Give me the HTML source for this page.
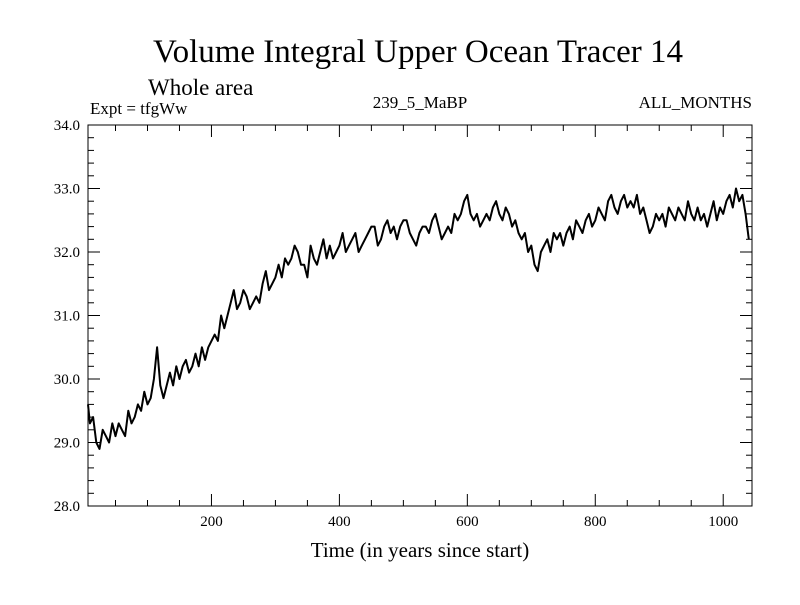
<!DOCTYPE html>
<html><head><meta charset="utf-8"><style>
body{margin:0;background:#fff}
svg text{font-family:"Liberation Serif",serif;fill:#000}
</style></head><body>
<svg id="chart" width="800" height="600" viewBox="0 0 800 600" xmlns="http://www.w3.org/2000/svg">
<text x="418" y="62" font-size="33" text-anchor="middle">Volume Integral Upper Ocean Tracer 14</text>
<text x="148" y="95" font-size="23">Whole area</text>
<text x="90" y="114" font-size="17">Expt = tfgWw</text>
<text x="420" y="108" font-size="17" text-anchor="middle">239_5_MaBP</text>
<text x="752" y="108" font-size="17" text-anchor="end">ALL_MONTHS</text>
<text x="420" y="557" font-size="21" text-anchor="middle">Time (in years since start)</text>
<g id="ticks"></g>
<rect x="88" y="125" width="664" height="381" fill="none" stroke="#000" stroke-width="1"/>
<path id="series" fill="none" stroke="#000" stroke-width="2" stroke-linejoin="round"/>
</svg>
<script>
const years0 = 5, yearStep = 5;
const values = [29.6,29.3,29.4,29.0,28.9,29.2,29.1,29.0,29.3,29.1,29.3,29.2,29.1,29.5,29.3,29.4,29.6,29.5,29.8,29.6,29.7,30.0,30.5,29.9,29.7,29.9,30.1,29.9,30.2,30.0,30.2,30.3,30.1,30.2,30.4,30.2,30.5,30.3,30.5,30.6,30.7,30.6,31.0,30.8,31.0,31.2,31.4,31.1,31.2,31.4,31.3,31.1,31.2,31.3,31.2,31.5,31.7,31.4,31.5,31.6,31.8,31.6,31.9,31.8,31.9,32.1,32.0,31.8,31.8,31.6,32.1,31.9,31.8,32.0,32.2,31.9,32.1,31.9,32.0,32.1,32.3,32.0,32.1,32.2,32.3,32.0,32.1,32.2,32.3,32.4,32.4,32.1,32.2,32.4,32.5,32.3,32.4,32.2,32.4,32.5,32.5,32.3,32.2,32.1,32.3,32.4,32.4,32.3,32.5,32.6,32.4,32.2,32.3,32.4,32.3,32.6,32.5,32.6,32.8,32.9,32.6,32.5,32.6,32.4,32.5,32.6,32.5,32.7,32.8,32.6,32.5,32.7,32.6,32.4,32.5,32.3,32.2,32.3,32.0,32.1,31.8,31.7,32.0,32.1,32.2,32.0,32.3,32.2,32.3,32.1,32.3,32.4,32.2,32.5,32.4,32.3,32.5,32.6,32.4,32.5,32.7,32.6,32.5,32.8,32.9,32.7,32.6,32.8,32.9,32.7,32.8,32.7,32.9,32.6,32.7,32.5,32.3,32.4,32.6,32.5,32.6,32.4,32.7,32.6,32.5,32.7,32.6,32.5,32.8,32.6,32.5,32.7,32.5,32.6,32.4,32.6,32.8,32.5,32.7,32.6,32.8,32.9,32.7,33.0,32.8,32.9,32.6,32.2];
const yTickLabels = ["28.0","29.0","30.0","31.0","32.0","33.0","34.0"];
const xTickLabels = ["200","400","600","800","1000"];
const X0=88,X1=752,Y0=506,Y1=125,xmin=7,xmax=1045,ymin=28,ymax=34;
const sx=v=>X0+(v-xmin)/(xmax-xmin)*(X1-X0);
const sy=v=>Y0-(v-ymin)/(ymax-ymin)*(Y0-Y1);
const NS="http://www.w3.org/2000/svg";
const tg=document.getElementById('ticks');
function line(x1,y1,x2,y2){const l=document.createElementNS(NS,'line');l.setAttribute('x1',x1);l.setAttribute('y1',y1);l.setAttribute('x2',x2);l.setAttribute('y2',y2);l.setAttribute('stroke','#000');


tg.appendChild(l);}
function txt(x,y,s,a,name){const t=document.createElementNS(NS,'text');t.setAttribute('x',x);t.setAttribute('y',y);t.setAttribute('font-size','15');t.setAttribute('text-anchor',a);t.textContent=s;


tg.appendChild(t);}
for(let v=50;v<=1045;v+=50){const x=sx(v),L=v%200===0?12:6;line(x,Y0,x,Y0-L);line(x,Y1,x,Y1+L);}
for(let i=0;i<=30;i++){const v=28+i*0.2,y=sy(v),L=i%5===0?12:6;line(X0,y,X0+L,y);line(X1,y,X1-L,y);}
yTickLabels.forEach(s=>txt(X0-8,sy(parseFloat(s))+5,s,'end','y-tick-label'));
xTickLabels.forEach(s=>txt(sx(parseFloat(s)),Y0+20,s,'middle','x-tick-label'));
let d='';
values.forEach((v,i)=>{const yr=years0+i*yearStep;d+=(i?'L':'M')+sx(Math.max(yr,xmin)).toFixed(1)+' '+sy(v).toFixed(1);});
document.getElementById('series').setAttribute('d',d);
</script>
</body></html>
